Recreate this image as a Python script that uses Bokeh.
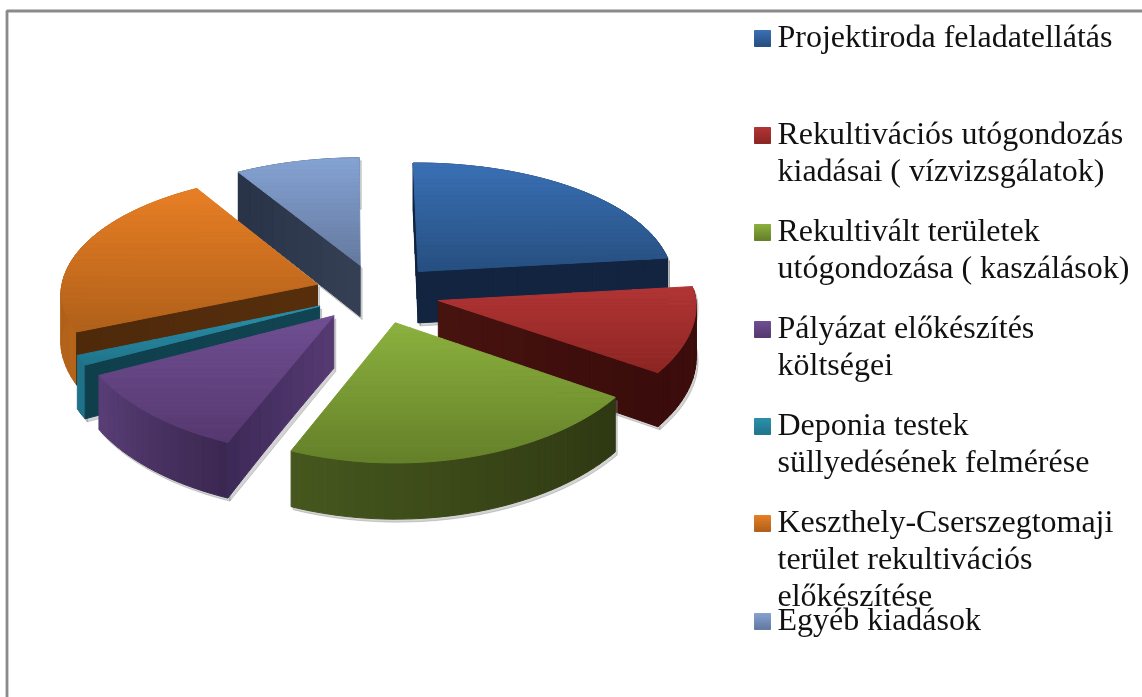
import math
from bokeh.plotting import figure
from bokeh.models import Range1d, ColumnDataSource
from bokeh.core.properties import value
from bokeh.embed import file_html
from bokeh.resources import INLINE

# ---- data ----
categories = ["Projektiroda feladatellátás",
              "Rekultivációs utógondozás kiadásai ( vízvizsgálatok)",
              "Rekultivált területek utógondozása ( kaszálások)",
              "Pályázat előkészítés költségei",
              "Deponia testek süllyedésének felmérése",
              "Keszthely-Cserszegtomaji terület rekultivációs előkészítése",
              "Egyéb kiadások"]
shares = [23.3, 11.2, 22.0, 11.1, 1.25, 22.6, 8.5]
legend_lines = [["Projektiroda feladatellátás"],
                ["Rekultivációs utógondozás", "kiadásai ( vízvizsgálatok)"],
                ["Rekultivált területek", "utógondozása ( kaszálások)"],
                ["Pályázat előkészítés", "költségei"],
                ["Deponia testek", "süllyedésének felmérése"],
                ["Keszthely-Cserszegtomaji", "terület rekultivációs", "előkészítése"],
                ["Egyéb kiadások"]]

# ---- style ----
W, H = 1142, 697
top_a = ["#3a70b5", "#b23535", "#8cb13e", "#704f93", "#2c90ab", "#e87f25", "#85a3d3"]
top_b = ["#264f80", "#8c2523", "#648029", "#56386f", "#20758c", "#b0601a", "#64799f"]
cut_a = ["#12243f", "#47130f", "#2e3812", "#553a72", "#114452", "#562e0c", "#343f54"]
cut_b = ["#12243f", "#3a0c0b", "#2e3812", "#3e2a59", "#103f4c", "#4e2a0b", "#2a3448"]
out_a = ["#1a2c4a", "#3f0f0e", "#2e3812", "#3b2851", "#1f7289", "#b5641a", "#2a3448"]
out_b = ["#1a2c4a", "#3a0c0b", "#46581e", "#5a3f78", "#1f7289", "#a85c18", "#2a3448"]
legend_y = [37, 134, 231, 328, 425, 522, 620]
line_gap = 37
text_shift = -2
order = [6, 0, 5, 1, 4, 3, 2]
CX, CY, R, RV, KX_BACK, KX_FRONT, KY, KZ, EXPL, DEPTH = 376.5, 293, 257, 122, 0.075, 0.035, 0.09, 0.06, 0.245, 52
START = -0.5

def lerp(c1, c2, t):
    a = [int(c1[i:i+2], 16) for i in (1, 3, 5)]
    b = [int(c2[i:i+2], 16) for i in (1, 3, 5)]
    return "#%02x%02x%02x" % tuple(round(a[i] + (b[i] - a[i]) * t) for i in range(3))

def proj(a, r, z, mid):
    X = r * math.sin(math.radians(a)) + EXPL * math.sin(math.radians(mid))
    Y = r * math.cos(math.radians(a)) + EXPL * math.cos(math.radians(mid))
    kx = KX_BACK if Y > 0 else KX_FRONT
    return (CX + R * X / (1 + kx * Y), CY - RV * Y / (1 + KY * Y) + DEPTH * z / (1 + KZ * Y))

def clip(poly, y0, y1):
    def half(pts, keep, cross):
        out = []
        for i in range(len(pts)):
            p, q = pts[i], pts[(i + 1) % len(pts)]
            if keep(p):
                out.append(p)
            if keep(p) != keep(q):
                t = (cross - p[1]) / (q[1] - p[1])
                out.append((p[0] + (q[0] - p[0]) * t, cross))
        return out
    r = half(poly, lambda p: p[1] >= y0, y0)
    if r:
        r = half(r, lambda p: p[1] <= y1, y1)
    return r

xs, ys, fills, alphas = [], [], [], []
def add(poly, c, alpha=1.0):
    xs.append([p[0] for p in poly])
    ys.append([p[1] for p in poly])
    fills.append(c)
    alphas.append(alpha)

def gradient(poly, ca, cb, n=26):
    y0 = min(p[1] for p in poly)
    y1 = max(p[1] for p in poly)
    for i in range(n):
        a = y0 + (y1 - y0) * i / n
        b = y0 + (y1 - y0) * (i + 1) / n
        part = clip(poly, a, b)
        if part:
            add(part, lerp(ca, cb, (i + .5) / n))

total = sum(shares)
starts, ends = [], []
acc = START
for v in shares:
    starts.append(acc)
    acc += v / total * 360
    ends.append(acc)

def band(a0, a1, r0=1.0, r1=1.0, mid=0):
    return [proj(a0, r0, 0, mid), proj(a1, r1, 0, mid), proj(a1, r1, 1, mid), proj(a0, r0, 1, mid)]

for i in order:
    a0, a1 = starts[i], ends[i]
    mid = (a0 + a1) / 2
    n = max(2, int((a1 - a0) / 2))
    angles = [a0 + (a1 - a0) * j / n for j in range(n + 1)]
    faces = []
    for j in range(n):
        faces.append((band(angles[j], angles[j + 1], mid=mid), lerp(out_a[i], out_b[i], j / n), j))
    sh = [proj(a, 1, 1, mid) for a in angles] + [proj(a, 1, 0, mid) for a in reversed(angles)]
    add([(p[0] + 2, p[1] + 3) for p in sh], "#808080", 0.35)
    cuts = []
    if math.cos(math.radians(a0 - 90)) < 0.0:
        cuts.append(a0)
    if math.cos(math.radians(a1 + 90)) < 0.0:
        cuts.append(a1)
    for a in cuts:
        add([(p[0] + 2, p[1] + 3) for p in band(a, a, 0, 1, mid)], "#808080", 0.35)
    for f, c, _ in faces:
        add(f, c)
    for a in cuts:
        for j in range(10):
            r0, r1 = j / 10, (j + 1) / 10
            add(band(a, a, r0, r1, mid), lerp(cut_a[i], cut_b[i], j / 9))
    poly = [proj(a0, 0, 0, mid)] + [proj(a, 1, 0, mid) for a in angles]
    gradient(poly, top_a[i], top_b[i])

for i, y in enumerate(legend_y):
    sq = [(754, y - 7), (770, y - 7), (770, y + 9), (754, y + 9)]
    gradient(sq, top_a[i], top_b[i], n=8)

p = figure(width=W, height=H, x_range=Range1d(0, W), y_range=Range1d(H, 0),
           output_backend="svg", toolbar_location=None, min_border=0,
           x_axis_type=None, y_axis_type=None, outline_line_color=None,
           styles={"position": "fixed", "left": "0px", "top": "0px"})
p.grid.visible = False

p.patches("x", "y", source=ColumnDataSource(dict(x=xs, y=ys, c=fills, a=alphas)),
          fill_color="c", line_color="c", fill_alpha="a", line_alpha="a", line_width=1)

p.line([6.5, 6.5, W], [H, 10.5, 10.5], line_color="#8a8a8a", line_width=2.8)

tx, ty, tt = [], [], []
for lines, y in zip(legend_lines, legend_y):
    for j, t in enumerate(lines):
        tx.append(777)
        ty.append(y + text_shift + j * line_gap)
        tt.append(t)
p.text(tx, ty, text=tt, text_font=value("Liberation Serif"), text_font_size="32px",
       text_color="#111111", text_baseline="middle", text_align="left")

open("out.html", "w").write(file_html(p, INLINE))
